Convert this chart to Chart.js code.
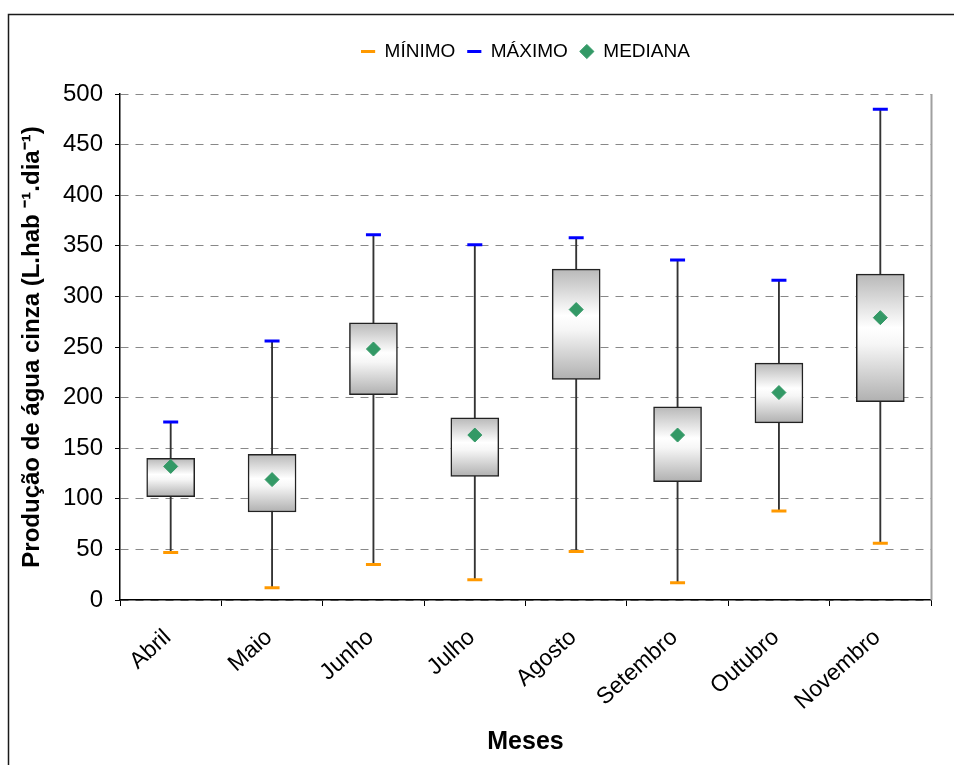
<!DOCTYPE html>
<html>
<head>
<meta charset="utf-8">
<script src="https://cdn.jsdelivr.net/npm/chart.js@4/dist/chart.umd.min.js"></script>
<style>
  html, body { margin: 0; padding: 0; background: #ffffff; overflow: hidden; }
  #wrap { width: 954px; height: 765px; }
</style>
</head>
<body>
<div id="wrap"><canvas id="c" width="954" height="765"></canvas></div>
<script>
// ---- data ----
const months = ['Abril', 'Maio', 'Junho', 'Julho', 'Agosto', 'Setembro', 'Outubro', 'Novembro'];
const minimo  = [47, 12, 35, 20, 48, 17, 88, 56];
const quart1  = [102, 87, 203, 122, 218, 117, 175, 196];
const mediana = [132, 119, 248, 163, 287, 163, 205, 279];
const quart3  = [140, 144, 274, 180, 327, 191, 234, 322];
const maximo  = [176, 256, 361, 351, 358, 336, 316, 485];
const yTicks  = [0, 50, 100, 150, 200, 250, 300, 350, 400, 450, 500];

const boxes    = months.map((m, i) => [quart1[i], quart3[i]]);
const whiskers = months.map((m, i) => [minimo[i], maximo[i]]);

Chart.defaults.font.family = "'Liberation Sans', Arial, sans-serif";
Chart.defaults.color = '#000000';

function boxGradient(ctx) {
  if (ctx.type !== 'data') return '#d0d0d0';
  const chart = ctx.chart;
  const ys = chart.scales.y;
  if (!ys || !chart.chartArea) return '#d0d0d0';
  const i = ctx.dataIndex;
  const top = ys.getPixelForValue(quart3[i]);
  const bot = ys.getPixelForValue(quart1[i]);
  if (!isFinite(top) || !isFinite(bot) || top === bot) return '#d0d0d0';
  const g = chart.ctx.createLinearGradient(0, top, 0, bot);
  g.addColorStop(0, '#b8b8b8');
  g.addColorStop(0.42, '#ffffff');
  g.addColorStop(0.55, '#f6f6f6');
  g.addColorStop(1, '#b0b0b0');
  return g;
}

const framePlugin = {
  id: 'frame',
  afterDraw(chart) {
    const c = chart.ctx, a = chart.chartArea;
    c.save();
    // right edge of the plot area
    c.strokeStyle = '#a0a0a0';
    c.lineWidth = 2;
    c.beginPath();
    c.moveTo(a.right + 0.5, a.top);
    c.lineTo(a.right + 0.5, a.bottom);
    c.stroke();
    // outer chart frame (cut at right and bottom)
    c.strokeStyle = '#1a1a1a';
    c.lineWidth = 1.5;
    c.beginPath();
    c.moveTo(8.5, chart.height);
    c.lineTo(8.5, 14.5);
    c.lineTo(chart.width, 14.5);
    c.stroke();
    c.restore();
  }
};

new Chart(document.getElementById('c'), {
  data: {
    labels: months,
    datasets: [
      {
        type: 'line', label: 'MÍNIMO', data: minimo, order: 1,
        showLine: false, pointStyle: 'line', pointRadius: 7.5, pointHoverRadius: 7.5,
        pointBorderWidth: 3, pointBorderColor: '#FF9900', pointBackgroundColor: '#FF9900',
        borderColor: '#FF9900', backgroundColor: '#FF9900'
      },
      {
        type: 'line', label: 'MÁXIMO', data: maximo, order: 2,
        showLine: false, pointStyle: 'line', pointRadius: 7.5, pointHoverRadius: 7.5,
        pointBorderWidth: 3, pointBorderColor: '#0000FF', pointBackgroundColor: '#0000FF',
        borderColor: '#0000FF', backgroundColor: '#0000FF'
      },
      {
        type: 'line', label: 'MEDIANA', data: mediana, order: 3,
        showLine: false, pointStyle: 'rectRot', pointRadius: 7, pointHoverRadius: 7,
        pointBorderWidth: 1, pointBorderColor: '#339966', pointBackgroundColor: '#339966',
        borderColor: '#339966', backgroundColor: '#339966'
      },
      {
        type: 'bar', label: 'box', data: boxes, order: 4, grouped: false,
        barThickness: 48, backgroundColor: boxGradient,
        borderColor: '#222222', borderWidth: 1.5, borderSkipped: false
      },
      {
        type: 'bar', label: 'whisker', data: whiskers, order: 5, grouped: false,
        barThickness: 1.2, backgroundColor: '#333333', borderWidth: 0
      }
    ]
  },
  options: {
    responsive: false,
    devicePixelRatio: 1,
    animation: false,
    events: [],
    layout: { padding: { left: 10, right: 23, top: 30, bottom: 0 } },
    plugins: {
      tooltip: { enabled: false },
      legend: {
        position: 'top', fullSize: false, weight: 3000,
        labels: {
          usePointStyle: true, boxHeight: 10, boxWidth: 14, padding: 12,
          font: { size: 19 }, color: '#000',
          filter: (item) => item.datasetIndex < 3,
          sort: (a, b) => a.datasetIndex - b.datasetIndex
        }
      },
      title: { display: true, text: '', font: { size: 10 }, padding: { top: 0, bottom: 11 } }
    },
    scales: {
      x: {
        type: 'category',
        offset: true,
        grid: { display: true, drawOnChartArea: false, drawTicks: true, tickLength: 6, tickColor: '#000', offset: true },
        border: { display: true, color: '#000', width: 1.5 },
        ticks: { autoSkip: false, maxRotation: 42, minRotation: 42, font: { size: 23 }, color: '#000', padding: 18, labelOffset: -3 },
        title: { display: true, text: 'Meses', font: { size: 25, weight: 'bold' }, color: '#000', padding: { top: 4, bottom: 8 } },
        afterFit(scale) { scale.height = 165; }
      },
      y: {
        type: 'linear',
        min: 0, max: 500,
        afterBuildTicks(scale) { scale.ticks = yTicks.map(v => ({ value: v })); },
        grid: { color: '#888888', lineWidth: 1, drawTicks: true, tickLength: 5, tickColor: '#000', tickBorderDash: [] },
        border: { display: true, color: '#000', width: 1.5, dash: [8, 7] },
        ticks: { font: { size: 24 }, color: '#000', padding: 12 },
        title: { display: true, text: 'Produção de água cinza (L.hab ⁻¹.dia⁻¹)', font: { size: 24, weight: 'bold' }, color: '#000', padding: { top: 8, bottom: 4 } },
        afterFit(scale) { scale.width = 110; }
      }
    }
  },
  plugins: [framePlugin]
});
</script>
</body>
</html>
